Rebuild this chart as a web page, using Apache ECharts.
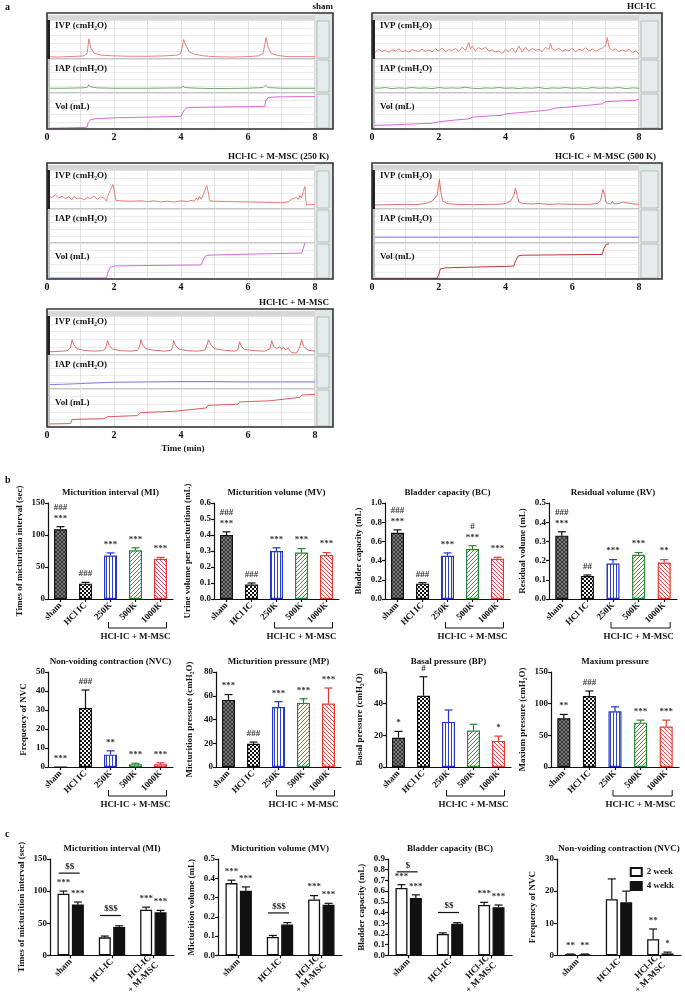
<!DOCTYPE html>
<html><head><meta charset="utf-8">
<script src="https://cdn.jsdelivr.net/npm/echarts@6/dist/echarts.min.js"></script>
<style>html,body{margin:0;padding:0;background:#fff}#c{width:685px;height:997px}</style>
</head><body><div id="c"></div>
<script>
// ===== Panel a: cystometry traces ([minute, % of band height]) =====
const shamIVP = [[0,6],[0.3,5],[0.6,6],[0.9,7],[1.1,8],[1.2,15],[1.25,52],[1.3,30],[1.4,15],[1.6,10],[2,8],[2.5,7],[3,7],[3.5,8],[3.9,10],[4.0,15],[4.08,50],[4.15,34],[4.25,18],[4.4,12],[4.7,8],[5,6],[5.5,5],[6,6],[6.3,8],[6.45,14],[6.54,55],[6.6,30],[6.7,14],[6.9,9],[7.2,6],[7.5,6],[8,6]];
const shamIAP = [[0,14],[0.5,14],[1.0,15],[1.2,16],[1.25,24],[1.3,18],[1.5,15],[2,14],[3,14],[4,15],[4.05,21],[4.12,16],[4.5,14],[5,13],[6,14],[6.45,16],[6.52,23],[6.6,16],[7,14],[8,14]];
const shamVol = [[0,2],[0.5,3],[1.0,4],[1.2,5],[1.23,18],[1.3,26],[1.5,29],[2.0,31],[3.0,33],[4.0,35],[4.05,36],[4.08,50],[4.15,58],[4.3,60],[5,61],[6,62],[6.5,63],[6.53,78],[6.6,87],[6.8,89],[7.5,90],[8,90]];
const hclIVP = [[0,22],[0.1,18],[0.2,25],[0.3,19],[0.4,23],[0.5,17],[0.6,24],[0.7,20],[0.8,26],[0.9,19],[1.0,22],[1.1,18],[1.2,24],[1.3,21],[1.4,19],[1.5,25],[1.6,20],[1.7,23],[1.8,18],[1.9,26],[2.0,21],[2.1,28],[2.2,19],[2.3,24],[2.4,22],[2.5,27],[2.6,20],[2.7,30],[2.8,22],[2.9,42],[2.95,25],[3.0,33],[3.1,21],[3.2,29],[3.3,24],[3.4,31],[3.5,20],[3.6,23],[3.7,18],[3.8,21],[3.9,14],[4.0,24],[4.1,19],[4.2,28],[4.3,16],[4.4,33],[4.5,18],[4.6,30],[4.7,20],[4.8,27],[4.9,22],[5.0,25],[5.1,19],[5.2,30],[5.3,24],[5.35,40],[5.4,26],[5.5,22],[5.6,28],[5.7,20],[5.8,24],[5.9,21],[6.0,27],[6.1,19],[6.2,25],[6.3,22],[6.4,29],[6.5,21],[6.6,26],[6.7,20],[6.8,24],[6.9,28],[7.0,35],[7.05,55],[7.1,30],[7.2,22],[7.3,26],[7.4,19],[7.5,23],[7.6,20],[7.7,25],[7.8,16],[7.9,21],[8.0,13]];
const hclIAP = [[0,15],[0.2,14],[0.4,16],[0.6,13],[0.8,15],[1.0,14],[1.2,16],[1.4,14],[1.6,15],[1.8,13],[2.0,16],[2.2,14],[2.4,15],[2.6,14],[2.8,17],[3.0,14],[3.2,13],[3.4,15],[3.6,14],[3.8,16],[4.0,14],[4.2,15],[4.4,13],[4.6,15],[4.8,14],[5.0,16],[5.2,13],[5.4,15],[5.6,14],[5.8,16],[6.0,14],[6.2,15],[6.4,13],[6.6,16],[6.8,14],[7.0,15],[7.2,14],[7.4,16],[7.6,13],[7.8,15],[8.0,14]];
const hclVol = [[0,10],[0.5,11],[1,13],[1.5,15],[1.8,16],[2.0,20],[2.5,25],[2.9,28],[3.0,33],[3.5,36],[3.9,38],[4.0,42],[4.5,46],[5.0,50],[5.3,53],[5.5,58],[6,62],[6.5,66],[6.9,70],[7.0,76],[7.5,78],[7.9,80],[8,83]];
const k250IVP = [[0,40],[0.05,32],[0.15,30],[0.25,36],[0.35,28],[0.45,33],[0.55,27],[0.65,31],[0.75,24],[0.8,32],[0.9,26],[1.0,29],[1.1,23],[1.2,30],[1.3,27],[1.4,33],[1.5,25],[1.6,31],[1.7,28],[1.78,20],[1.8,30],[1.9,50],[1.97,63],[2.02,40],[2.06,22],[2.2,21],[2.5,20],[2.8,21],[3.0,19],[3.2,21],[3.4,18],[3.6,20],[3.8,18],[4.0,21],[4.2,19],[4.3,22],[4.4,20],[4.45,28],[4.5,22],[4.55,33],[4.6,25],[4.65,34],[4.72,50],[4.77,60],[4.82,40],[4.86,21],[5.0,20],[5.5,19],[6.0,18],[6.5,17],[7.0,16],[7.2,18],[7.3,25],[7.35,20],[7.45,30],[7.5,24],[7.55,35],[7.6,28],[7.65,45],[7.7,58],[7.72,25],[7.75,10],[7.85,12],[8.0,11]];
const k250Vol = [[0,3],[1.0,3],[1.78,3],[1.82,20],[1.9,33],[2.0,36],[2.5,37],[3.5,38],[4.6,39],[4.65,50],[4.72,63],[4.8,66],[5.5,68],[6.5,70],[7.6,72],[7.65,85],[7.7,100]];
const k500IVP = [[0,10],[0.5,11],[1.0,12],[1.3,11],[1.6,14],[1.8,20],[1.95,35],[2.02,76],[2.07,40],[2.12,20],[2.25,14],[2.5,12],[3.0,11],[3.5,12],[3.8,12],[4.0,14],[4.15,20],[4.25,35],[4.3,53],[4.35,35],[4.4,18],[4.5,14],[4.8,13],[5.0,14],[5.3,12],[5.6,13],[6.0,12],[6.5,12],[6.75,14],[6.85,22],[6.92,50],[6.97,38],[7.0,20],[7.05,14],[7.15,13],[7.2,20],[7.25,13],[7.4,14],[7.5,18],[7.55,13],[7.7,15],[7.8,13],[8,12]];
const k500IAP = [[0,17],[2,17],[4,17],[6,17],[8,17]];
const k500Vol = [[0,2],[1.0,2],[1.95,2],[2.0,12],[2.05,28],[2.2,31],[3.0,33],[4.0,35],[4.25,36],[4.3,50],[4.38,64],[4.5,66],[5.5,67],[6.5,68],[6.9,68],[6.95,85],[7.02,96],[7.1,98]];
const mscIVP = [[0,8],[0.3,9],[0.6,11],[0.7,18],[0.75,39],[0.8,26],[0.9,16],[1.1,12],[1.4,10],[1.65,11],[1.75,17],[1.81,37],[1.86,24],[1.95,15],[2.2,11],[2.5,10],[2.7,12],[2.76,20],[2.8,39],[2.86,25],[2.95,16],[3.2,12],[3.5,10],[3.7,12],[3.75,19],[3.78,37],[3.84,24],[3.95,15],[4.2,11],[4.5,10],[4.72,13],[4.77,24],[4.82,39],[4.9,25],[5.0,16],[5.3,12],[5.6,10],[5.7,14],[5.75,34],[5.8,22],[5.9,14],[6.2,11],[6.5,10],[6.65,15],[6.71,37],[6.76,22],[6.85,16],[6.95,21],[7.0,14],[7.05,20],[7.12,13],[7.2,18],[7.3,6],[7.45,5],[7.5,12],[7.56,25],[7.6,39],[7.66,22],[7.8,12],[8,10]];
const mscIAP = [[0,13],[0.5,14],[1,16],[1.5,18],[2,20],[3,21],[4,22],[5,22],[6,21],[7,21],[8,21]];
const mscVol = [[0,8],[0.7,9],[0.75,20],[1.7,22],[1.8,27],[2.7,30],[2.8,38],[3.75,41],[3.8,46],[4.75,50],[4.8,57],[5.7,60],[5.75,66],[6.65,69],[6.7,74],[7.55,78],[7.6,84],[8,86]];
const traceTicks = [0,2,4,6,8];

// ===== Panel b =====
const bCats = ['sham','HCl IC','250K','500K','1000K'];
const miVal = [109,24,68,76,63], miErr = [4,2,4,4,2], miSig = ['###\n***','###','***','***','***'];
const mvVal = [0.40,0.09,0.30,0.29,0.275], mvErr = [0.02,0.01,0.02,0.025,0.015], mvSig = ['###\n***','###','***','***','***'];
const bcVal = [0.69,0.16,0.45,0.52,0.42], bcErr = [0.03,0.01,0.03,0.035,0.015], bcSig = ['###\n***','###','***','#\n***','***'];
const rvVal = [0.33,0.12,0.185,0.23,0.19], rvErr = [0.02,0.005,0.02,0.012,0.015], rvSig = ['###\n***','##','***','***','**'];
const nvcVal = [0,31,6.5,1.5,1.5], nvcErr = [0,9.5,2,0.5,0.7], nvcSig = ['***','###','**','***','***'];
const mpVal = [56.5,19.5,50.5,54,53.5], mpErr = [4.5,1.5,4.5,3.5,13], mpSig = ['***','###','***','***','***'];
const bpVal = [18.5,45,28.5,23,16.5], bpErr = [4,12,7.5,4,3], bpSig = ['*','#','','','*'];
const maxVal = [77,112,88,70,64], maxErr = [6,8,7,4,10], maxSig = ['**','###','','***','***'];

// ===== Panel c =====
const cCats = ['sham','HCl-IC','HCl-IC\n+ M-MSC'];
const cLegend = ['2 week','4 wekk'];
const cMi2 = [96,28,71], cMi2e = [4,2,4], cMi4 = [79,44,67], cMi4e = [4,2,3];
const cMv2 = [0.375,0.095,0.29], cMv2e = [0.015,0.008,0.02], cMv4 = [0.335,0.16,0.262], cMv4e = [0.02,0.01,0.008];
const cBc2 = [0.63,0.20,0.47], cBc2e = [0.03,0.01,0.025], cBc4 = [0.535,0.295,0.45], cBc4e = [0.03,0.01,0.02];
const cNv2 = [0.3,17.5,5], cNv2e = [0.1,6.3,3.2], cNv4 = [0.3,16.5,0.6], cNv4e = [0.1,3.5,0.4];
const cSig2 = ['***','','***'], cSig4 = ['***','','***'];
const cNvSig2 = ['**','','**'], cNvSig4 = ['**','','*'];
const cMiBr = [[0,128,'$$'],[1,62,'$$$']];
const cMvBr = [[1,0.22,'$$$']];
const cBcBr = [[0,0.78,'$'],[1,0.40,'$$']];

// ===== build =====
const FF = '"Liberation Serif","DejaVu Serif",serif';
const F9 = 'bold 9px ' + FF;
const option = {animation:false, backgroundColor:'#fff', textStyle:{fontFamily:FF},
  grid:[], xAxis:[], yAxis:[], series:[], graphic:[],
  legend:{data:cLegend, orient:'vertical', right:6, top:862, itemWidth:11, itemHeight:8, itemGap:4, icon:'rect', selectedMode:false,
    textStyle:{fontFamily:FF, fontWeight:'bold', fontSize:9, color:'#111'}}
};
const G = option.graphic;
function txt(x,y,t,opt){ opt=opt||{}; G.push({type:'text', x:x, y:y, z:200, silent:true, style:{text:t, font:opt.font||F9, fill:opt.fill||'#111', align:opt.align||'left', verticalAlign:opt.va||'middle'}}); }
function rect(x,y,w,h,st,z){ G.push({type:'rect', z:z||1, silent:true, shape:{x:x,y:y,width:w,height:h}, style:st}); }
function line(x1,y1,x2,y2,st){ G.push({type:'line', z:150, silent:true, shape:{x1,y1,x2,y2}, style:st}); }

// --- trace panels
function tracePanel(p){
  const t=p.t, b=p.b;
  const bands=[[t+7,t+46],[t+46,t+80],[t+80,b]];
  const labels=['IVP (cmH\u2082O)','IAP (cmH\u2082O)','Vol (mL)'];
  const loff=[6,10,14];
  rect(p.dr, t, p.fr-p.dr, b-t, {fill:'#dfe6e6', stroke:null}, 1);
  bands.forEach((bd,k)=>{
    const gi=option.grid.length;
    option.grid.push({left:p.dl, top:bd[0], width:p.dr-p.dl, height:bd[1]-bd[0], show:true, borderColor:'#b4b4b4', borderWidth:1, backgroundColor:'#fff'});
    option.xAxis.push({type:'value', gridIndex:gi, min:0, max:8, interval:1, axisLine:{show:false}, axisTick:{show:false},
      axisLabel:{show:k===2, margin:3, fontFamily:FF, fontWeight:'bold', fontSize:10, color:'#111',
        formatter:v=> traceTicks.indexOf(v)>=0 ? String(v) : ''},
      splitLine:{show:true, lineStyle:{color:'#d6d6d6', width:0.7}}});
    option.yAxis.push({type:'value', gridIndex:gi, min:0, max:100, interval:20, axisLine:{show:false}, axisTick:{show:false}, axisLabel:{show:false},
      splitLine:{show:true, lineStyle:{color:'#e4e4e4', width:0.7}}});
    const d=p.data[k];
    if(d) option.series.push({type:'line', xAxisIndex:gi, yAxisIndex:gi, data:d, showSymbol:false, silent:true, z:3,
      lineStyle:{color:p.colors[k], width:0.9}});
    rect(p.dr+2, bd[0]+1, p.fr-p.dr-6, bd[1]-bd[0]-2, {fill:'#e6ecec', stroke:'#9aa4a4', lineWidth:0.6}, 2);
    rect(p.fl, bd[0], 3, bd[1]-bd[0], {fill: k===0?'#222':'#c4c4c4', stroke:null}, 5);
    txt(p.dl+8, bd[0]+loff[k], labels[k], {font:'bold 9px '+FF});
  });
  line(p.fl, t+3, p.dr, t+3, {stroke:'#999', lineWidth:0.8});
  line(p.fl, t+5, p.dr, t+5, {stroke:'#999', lineWidth:0.8});
  rect(p.fl, t, p.fr-p.fl, b-t, {fill:null, stroke:'#333', lineWidth:1.6}, 160);
  txt(p.tx, p.ty, p.title, {align:'right', font:'bold 9px '+FF});
}
tracePanel({fl:47,fr:333,dl:47,dr:315,t:13,b:129,title:'sham',tx:333,ty:7,data:[shamIVP,shamIAP,shamVol],colors:['#e8736c','#62a25a','#d458d4']});
tracePanel({fl:372,fr:662,dl:372,dr:639,t:13,b:129,title:'HCl-IC',tx:656,ty:7,data:[hclIVP,hclIAP,hclVol],colors:['#e8736c','#62a25a','#d458d4']});
tracePanel({fl:47,fr:333,dl:47,dr:315,t:163,b:279,title:'HCl-IC + M-MSC (250 K)',tx:329,ty:157,data:[k250IVP,null,k250Vol],colors:['#e8736c','#62a25a','#d458d4']});
tracePanel({fl:372,fr:662,dl:372,dr:639,t:163,b:279,title:'HCl-IC + M-MSC (500 K)',tx:656,ty:157,data:[k500IVP,k500IAP,k500Vol],colors:['#d8605c','#7070e0','#b82020']});
tracePanel({fl:47,fr:333,dl:47,dr:315,t:309,b:427,title:'HCl-IC + M-MSC',tx:329,ty:303,data:[mscIVP,mscIAP,mscVol],colors:['#d8605c','#7070e0','#d84848']});
txt(183, 449, 'Time (min)', {align:'center'});
txt(5, 7, 'a', {font:'bold 10px '+FF});
txt(5, 480, 'b', {font:'bold 10px '+FF});
txt(5, 834, 'c', {font:'bold 10px '+FF});

// --- patterns
function pat(kind){
  const c=document.createElement('canvas'); const x=c.getContext('2d');
  if(kind==='sham'){ c.width=c.height=4; x.fillStyle='#7c7c7c'; x.fillRect(0,0,4,4); x.fillStyle='#353535'; for(let i=0;i<4;i++){x.fillRect(i,i,1,1); x.fillRect(i,3-i,1,1);} }
  else if(kind==='check'){ c.width=c.height=4; x.fillStyle='#fff'; x.fillRect(0,0,4,4); x.fillStyle='#111'; x.fillRect(0,0,2,2); x.fillRect(2,2,2,2); }
  else if(kind==='v'){ c.width=3; c.height=4; x.fillStyle='#fff'; x.fillRect(0,0,3,4); x.fillStyle='#3040d0'; x.fillRect(1,0,1,4); }
  else if(kind==='d1'){ c.width=c.height=4; x.fillStyle='#fff'; x.fillRect(0,0,4,4); x.fillStyle='#38a040'; for(let i=0;i<4;i++) x.fillRect(i,3-i,1,1); }
  else { c.width=c.height=4; x.fillStyle='#fff'; x.fillRect(0,0,4,4); x.fillStyle='#f04848'; for(let i=0;i<4;i++) x.fillRect(i,i,1,1); }
  return {image:c, repeat:'repeat'};
}
const bFill = [pat('sham'), pat('check'), pat('v'), pat('d1'), pat('d2')];
const bEdge = ['#111','#111','#2233cc','#228833','#e03a3a'];

function errSeries(gi, vals, errs, sigs, colors, dx, capHalf){
  return {type:'custom', xAxisIndex:gi, yAxisIndex:gi, z:10, silent:true,
    data: vals.map((v,i)=>[i, v, errs[i]]),
    renderItem:(params, api)=>{
      const i=params.dataIndex, v=api.value(1), e=api.value(2);
      const p0=api.coord([api.value(0), v]), p1=api.coord([api.value(0), v+e]);
      const x=p0[0]+dx; const col=Array.isArray(colors)?colors[i]:colors;
      const ch=[];
      if(e>0){
        ch.push({type:'line', shape:{x1:x,y1:p0[1],x2:x,y2:p1[1]}, style:{stroke:col, lineWidth:1.2}});
        ch.push({type:'line', shape:{x1:x-capHalf,y1:p1[1],x2:x+capHalf,y2:p1[1]}, style:{stroke:col, lineWidth:1.2}});
      }
      if(sigs && sigs[i]) ch.push({type:'text', x:x, y:p1[1]-3, style:{text:sigs[i], align:'center', verticalAlign:'bottom', font:F9, fill:'#333', lineHeight:11}});
      return {type:'group', children:ch};
    }};
}
function axes(cfg, gi, cats){
  option.xAxis.push({type:'category', gridIndex:gi, data:cats,
    axisLine:{lineStyle:{color:'#111', width:1.2}}, axisTick:{show:true, alignWithLabel:true, length:3, lineStyle:{color:'#111', width:1.2}},
    axisLabel:{rotate:45, margin:5, interval:0, fontFamily:FF, fontWeight:'bold', fontSize:9, color:'#111', lineHeight:10}});
  option.yAxis.push({type:'value', gridIndex:gi, min:0, max:cfg.max, interval:cfg.iv,
    axisLine:{show:true, lineStyle:{color:'#111', width:1.2}}, axisTick:{show:true, length:3, lineStyle:{color:'#111', width:1.2}},
    splitLine:{show:false},
    axisLabel:{margin:3, fontFamily:FF, fontWeight:'bold', fontSize:9, color:'#111', formatter:v=>v.toFixed(cfg.dec)},
    name:cfg.yname, nameLocation:'middle', nameGap:cfg.ng, nameTextStyle:{fontFamily:FF, fontWeight:'bold', fontSize:9, color:'#111'}});
  txt(cfg.left+cfg.w/2, cfg.top-10, cfg.title, {align:'center', font:'bold 9px '+FF});
}
function bChart(cfg){
  const gi=option.grid.length;
  option.grid.push({left:cfg.left, top:cfg.top, width:cfg.w, height:cfg.h});
  axes(cfg, gi, bCats);
  option.series.push({type:'bar', xAxisIndex:gi, yAxisIndex:gi, barWidth:13, z:5, silent:true,
    data: cfg.vals.map((v,i)=>({value:v, itemStyle:{color:bFill[i], borderColor:bEdge[i], borderWidth:1.2}}))});
  option.series.push(errSeries(gi, cfg.vals, cfg.errs, cfg.sigs, bEdge, 0, 4));
  option.series.push({type:'custom', xAxisIndex:gi, yAxisIndex:gi, silent:true, data:[[0,0]],
    renderItem:(params, api)=>{
      const a=api.coord([2,0]), m=api.coord([3,0]), z=api.coord([4,0]); const y=a[1]+29;
      return {type:'group', children:[
        {type:'polyline', shape:{points:[[a[0]-2,y-6],[a[0]-2,y],[z[0]+6,y],[z[0]+6,y-6]]}, style:{stroke:'#111', lineWidth:1, fill:null}},
        {type:'text', x:m[0], y:y+9, style:{text:'HCl-IC + M-MSC', align:'center', verticalAlign:'middle', font:F9, fill:'#111'}}]};
    }});
}
const r1=503, r2=672, L=[48,214,385,549];
bChart({left:L[0],top:r1,w:125,h:96,max:150,iv:50,dec:0,ng:24,yname:'Times of micturition interval (sec)',title:'Micturition interval (MI)',vals:miVal,errs:miErr,sigs:miSig});
bChart({left:L[1],top:r1,w:125,h:96,max:0.6,iv:0.1,dec:1,ng:22,yname:'Urine volume per micturition (mL)',title:'Micturition volume (MV)',vals:mvVal,errs:mvErr,sigs:mvSig});
bChart({left:L[2],top:r1,w:125,h:96,max:1.0,iv:0.2,dec:1,ng:22,yname:'Bladder capacity (mL)',title:'Bladder capacity (BC)',vals:bcVal,errs:bcErr,sigs:bcSig});
bChart({left:L[3],top:r1,w:128,h:96,max:0.5,iv:0.1,dec:1,ng:22,yname:'Residual volume (mL)',title:'Residual volume (RV)',vals:rvVal,errs:rvErr,sigs:rvSig});
bChart({left:L[0],top:r2,w:125,h:95,max:50,iv:10,dec:0,ng:20,yname:'Frequency of NVC',title:'Non-voiding contraction (NVC)',vals:nvcVal,errs:nvcErr,sigs:nvcSig});
bChart({left:L[1]+2,top:r2,w:125,h:95,max:80,iv:20,dec:0,ng:22,yname:'Micturition pressure (cmH\u2082O)',title:'Micturition pressure (MP)',vals:mpVal,errs:mpErr,sigs:mpSig});
bChart({left:L[2]+1,top:r2,w:125,h:95,max:60,iv:20,dec:0,ng:22,yname:'Basal pressure (cmH\u2082O)',title:'Basal pressure (BP)',vals:bpVal,errs:bpErr,sigs:bpSig});
bChart({left:L[3]+2,top:r2,w:128,h:95,max:150,iv:50,dec:0,ng:24,yname:'Maxium pressure (cmH\u2082O)',title:'Maxium pressure',vals:maxVal,errs:maxErr,sigs:maxSig});

function cChart(cfg){
  const gi=option.grid.length;
  option.grid.push({left:cfg.left, top:cfg.top, width:cfg.w, height:cfg.h});
  axes(cfg, gi, cCats);
  option.series.push({type:'bar', name:cLegend[0], xAxisIndex:gi, yAxisIndex:gi, barWidth:12, barGap:'20%', z:5, silent:true, data:cfg.v2, itemStyle:{color:'#fff', borderColor:'#111', borderWidth:1.3}});
  option.series.push({type:'bar', name:cLegend[1], xAxisIndex:gi, yAxisIndex:gi, barWidth:12, barGap:'20%', z:5, silent:true, data:cfg.v4, itemStyle:{color:'#111', borderColor:'#111', borderWidth:1.3}});
  option.series.push(errSeries(gi, cfg.v2, cfg.e2, cfg.s2, '#111', -7.2, 4));
  option.series.push(errSeries(gi, cfg.v4, cfg.e4, cfg.s4, '#111', 7.2, 4));
  if(cfg.br) option.series.push({type:'custom', xAxisIndex:gi, yAxisIndex:gi, silent:true, data:cfg.br.map(b=>[b[0],b[1]]),
    renderItem:(params, api)=>{
      const p=api.coord([api.value(0), api.value(1)]); const t=cfg.br[params.dataIndex][2];
      return {type:'group', children:[
        {type:'line', shape:{x1:p[0]-12,y1:p[1],x2:p[0]+9,y2:p[1]}, style:{stroke:'#111', lineWidth:1.2}},
        {type:'text', x:p[0]-1, y:p[1]-2, style:{text:t, align:'center', verticalAlign:'bottom', font:F9, fill:'#222'}}]};
    }});
}
const r3=859;
cChart({left:50,top:r3,w:124,h:97,max:150,iv:50,dec:0,ng:24,yname:'Times of micturition interval (sec)',title:'Micturition interval (MI)',v2:cMi2,e2:cMi2e,v4:cMi4,e4:cMi4e,s2:cSig2,s4:cSig4,br:cMiBr});
cChart({left:218,top:r3,w:124,h:97,max:0.5,iv:0.1,dec:1,ng:22,yname:'Micturition volume (mL)',title:'Micturition volume (MV)',v2:cMv2,e2:cMv2e,v4:cMv4,e4:cMv4e,s2:cSig2,s4:cSig4,br:cMvBr});
cChart({left:388,top:r3,w:124,h:97,max:0.9,iv:0.1,dec:1,ng:22,yname:'Bladder capacity (mL)',title:'Bladder capacity (BC)',v2:cBc2,e2:cBc2e,v4:cBc4,e4:cBc4e,s2:cSig2,s4:cSig4,br:cBcBr});
cChart({left:557,top:r3,w:124,h:97,max:30,iv:10,dec:0,ng:20,yname:'Frequency of NVC',title:'Non-voiding contraction (NVC)',v2:cNv2,e2:cNv2e,v4:cNv4,e4:cNv4e,s2:cNvSig2,s4:cNvSig4,br:null});

const chart = echarts.init(document.getElementById('c'), null, {renderer:'canvas'});
chart.setOption(option);
</script></body></html>
